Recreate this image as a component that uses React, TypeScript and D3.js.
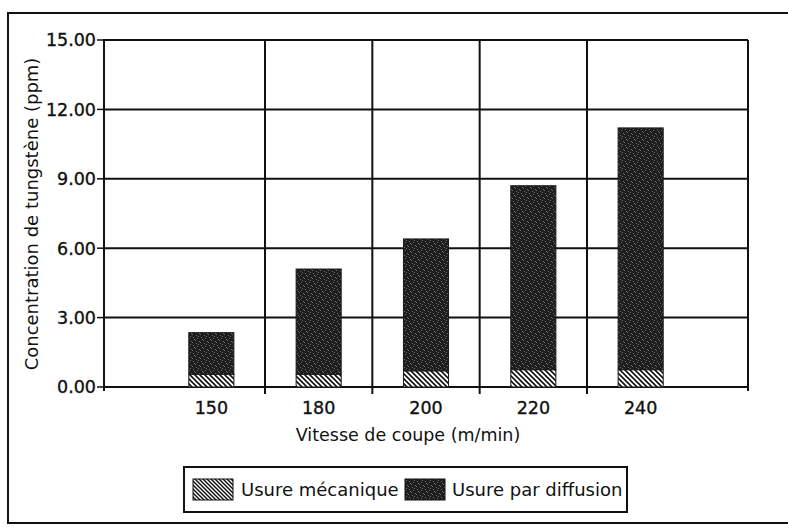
import React from "react";
import * as d3 from "d3";

const categories = ["150", "180", "200", "220", "240"];
const usureMecanique = [0.55, 0.55, 0.7, 0.75, 0.75];
const usureDiffusion = [1.8, 4.55, 5.7, 7.95, 10.45];
const yTicks = [0, 3, 6, 9, 12, 15];
const seriesKeys = ["mecanique", "diffusion"];
const seriesLabels = ["Usure mécanique", "Usure par diffusion"];

const W = 788;
const H = 527;
const FONT = "'DejaVu Sans', sans-serif";

export default function App() {
  const left = 104;
  const right = 748;
  const top = 40;
  const bottom = 387;

  const x = d3
    .scaleBand<string>()
    .domain(categories)
    .range([left, right])
    .paddingInner(0)
    .paddingOuter(0.5);
  const y = d3.scaleLinear().domain([0, 15]).range([bottom, top]);

  const rows = categories.map((c, i) => ({
    cat: c,
    mecanique: usureMecanique[i],
    diffusion: usureDiffusion[i],
  }));
  const stack = d3.stack<any>().keys(seriesKeys)(rows);

  const step = x.step();
  const barW = step * 0.42;
  const fills = ["url(#hatch)", "url(#speckle)"];
  const boundaries = categories.slice(1).map((c) => x(c) as number);

  // deterministic speckle dots for texture
  const speckDots = [
    [1, 1], [5, 2], [3, 4], [7, 5], [0, 6], [4, 7], [6, 0], [2, 3],
  ];

  return (
    <svg
      width={W}
      height={H}
      style={{ position: "absolute", left: 0, top: 0, background: "#fff" }}
      fontFamily={FONT}
    >
      <defs>
        <pattern id="hatch" patternUnits="userSpaceOnUse" width={5} height={5}>
          <rect width={5} height={5} fill="#fff" />
          <path d="M0,0 L5,5 M-1,4 L1,6 M4,-1 L6,1" stroke="#111" strokeWidth={1.6} />
        </pattern>
        <pattern id="hatchLegend" patternUnits="userSpaceOnUse" width={4} height={4}>
          <rect width={4} height={4} fill="#fff" />
          <path d="M0,0 L4,4 M-1,3 L1,5 M3,-1 L5,1" stroke="#111" strokeWidth={1.5} />
        </pattern>
        <pattern id="speckle" patternUnits="userSpaceOnUse" width={8} height={8}>
          <rect width={8} height={8} fill="#1e1e1e" />
          {speckDots.map(([a, b], i) => (
            <rect key={i} x={a} y={b} width={1} height={1} fill="#6a6a6a" />
          ))}
        </pattern>
      </defs>
      <rect width={W} height={H} fill="#fff" />

      {/* outer frame */}
      <path d={`M8,524 L8,13 L800,13`} fill="none" stroke="#111" strokeWidth={2} />
      <line x1={8} x2={W} y1={523} y2={523} stroke="#111" strokeWidth={2} />

      {/* horizontal gridlines + y ticks */}
      {yTicks.map((t) => (
        <g key={t}>
          <line x1={left} x2={right} y1={y(t)} y2={y(t)} stroke="#111" strokeWidth={2} />
          <line x1={left - 7} x2={left} y1={y(t)} y2={y(t)} stroke="#111" strokeWidth={1.5} />
          <text
            x={left - 8}
            y={y(t)}
            dy="0.36em"
            textAnchor="end"
            fontSize={17.5}
            fill="#111"
            stroke="#111"
            strokeWidth={0.35}
          >
            {d3.format(".2f")(t)}
          </text>
        </g>
      ))}

      {/* vertical gridlines at category boundaries */}
      {boundaries.map((bx, i) => (
        <line key={i} x1={bx} x2={bx} y1={top} y2={bottom + 7} stroke="#111" strokeWidth={2} />
      ))}
      <line x1={right} x2={right} y1={top} y2={bottom + 4} stroke="#111" strokeWidth={2} />
      <line x1={left} x2={left} y1={top - 1} y2={bottom + 4} stroke="#111" strokeWidth={2} />

      {/* bars */}
      {stack.map((s, si) => (
        <g key={s.key}>
          {s.map((d, i) => {
            const cx = (x(categories[i]) as number) + step / 2;
            return (
              <rect
                key={i}
                x={cx - barW / 2}
                y={y(d[1])}
                width={barW}
                height={y(d[0]) - y(d[1])}
                fill={fills[si]}
                stroke="#1a1a1a"
                strokeWidth={1}
              />
            );
          })}
        </g>
      ))}

      {/* x tick labels */}
      {categories.map((c) => (
        <text
          key={c}
          x={(x(c) as number) + step / 2}
          y={414}
          textAnchor="middle"
          fontSize={17.5}
          fill="#111"
          stroke="#111"
          strokeWidth={0.35}
        >
          {c}
        </text>
      ))}

      {/* axis titles */}
      <text x={408} y={441} textAnchor="middle" fontSize={17.5} fill="#111">
        Vitesse de coupe (m/min)
      </text>
      <text
        transform={`translate(38,214) rotate(-90)`}
        textAnchor="middle"
        fontSize={18}
        fill="#111"
      >
        Concentration de tungstène (ppm)
      </text>

      {/* legend */}
      <rect x={184} y={467} width={443} height={45} fill="#fff" stroke="#111" strokeWidth={2} />
      <rect x={193} y={479} width={40} height={21} fill="url(#hatchLegend)" stroke="#111" strokeWidth={1} />
      <text x={241} y={496} fontSize={18} fill="#111">{seriesLabels[0]}</text>
      <rect x={405} y={479} width={40} height={21} fill="url(#speckle)" stroke="#111" strokeWidth={1} />
      <text x={452} y={496} fontSize={18} fill="#111">{seriesLabels[1]}</text>
    </svg>
  );
}
